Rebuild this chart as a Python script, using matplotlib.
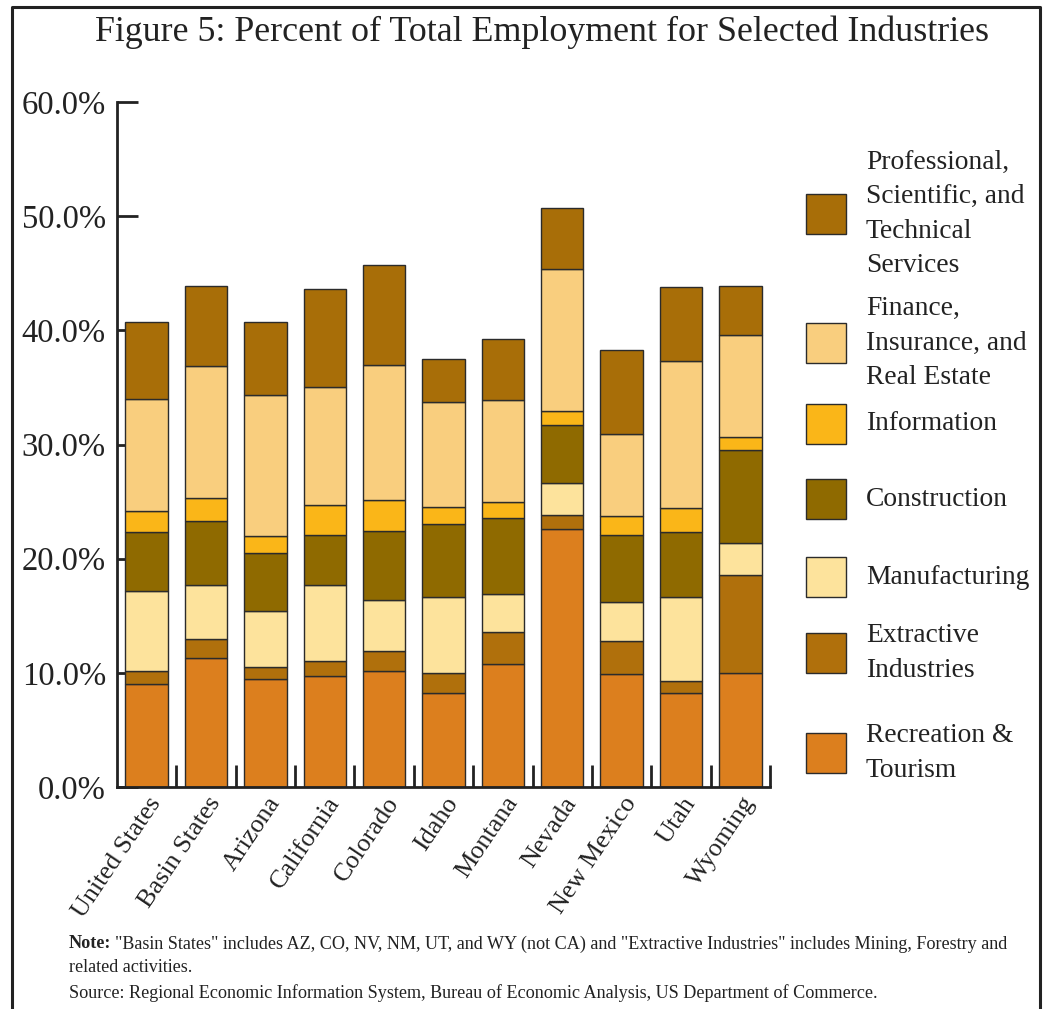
import numpy as np
import matplotlib
matplotlib.use('Agg')
import matplotlib.pyplot as plt
from matplotlib.lines import Line2D
from matplotlib.patches import Rectangle

plt.rcParams['font.family'] = ['Liberation Serif', 'DejaVu Serif']

regions = ['United States', 'Basin States', 'Arizona', 'California', 'Colorado',
           'Idaho', 'Montana', 'Nevada', 'New Mexico', 'Utah', 'Wyoming']

# share of total employment (%), stacked bottom to top
recreation    = [9.0, 11.3, 9.5, 9.7, 10.2, 8.2, 10.8, 22.6, 9.9, 8.2, 10.0]
extractive    = [1.2, 1.7, 1.0, 1.3, 1.7, 1.8, 2.8, 1.2, 2.9, 1.1, 8.6]
manufacturing = [7.0, 4.7, 4.9, 6.7, 4.5, 6.6, 3.3, 2.8, 3.4, 7.3, 2.8]
construction  = [5.1, 5.6, 5.1, 4.4, 6.0, 6.4, 6.7, 5.1, 5.9, 5.7, 8.1]
information   = [1.9, 2.0, 1.5, 2.6, 2.7, 1.5, 1.4, 1.2, 1.6, 2.1, 1.2]
finance       = [9.8, 11.6, 12.3, 10.3, 11.9, 9.2, 8.9, 12.5, 7.2, 12.9, 8.9]
professional  = [6.7, 7.0, 6.4, 8.6, 8.7, 3.8, 5.3, 5.35, 7.4, 6.5, 4.3]

series = [recreation, extractive, manufacturing, construction,
          information, finance, professional]
names = ['Recreation &\nTourism', 'Extractive\nIndustries', 'Manufacturing',
         'Construction', 'Information', 'Finance,\nInsurance, and\nReal Estate',
         'Professional,\nScientific, and\nTechnical\nServices']
colors = ['#DC7F1E', '#B0700C', '#FDE39C', '#8F6A00',
          '#FAB618', '#F9CE7E', '#A86E08']

W, H = 1047, 1009
fig = plt.figure(figsize=(W / 100, H / 100), dpi=100)
ax = fig.add_axes([117 / W, 1 - 787 / H, (770 - 117) / W, (787 - 102) / H])

x = np.arange(len(regions))
bottom = np.zeros(len(regions))
for vals, col in zip(series, colors):
    ax.bar(x, vals, width=0.715, bottom=bottom, color=col,
           edgecolor='#2b2b2b', linewidth=1.0, zorder=2)
    bottom += np.array(vals)

ax.set_xlim(-0.5, 10.5)
ax.set_ylim(0, 60)
ax.set_yticks(np.arange(0, 61, 10))
ax.set_yticklabels(['%.1f%%' % v for v in np.arange(0, 61, 10)])
ax.set_xticks(x + 0.5)
ax.set_xticklabels([])
for s in ['top', 'right']:
    ax.spines[s].set_visible(False)
for s in ['left', 'bottom']:
    ax.spines[s].set_linewidth(2.0)
    ax.spines[s].set_color('#222222')
ax.tick_params(axis='y', direction='in', length=15, width=2.0, color='#222222',
               labelsize=23.5, pad=8, labelcolor='#222222')
ax.tick_params(axis='x', direction='in', length=16, width=2.0, color='#222222')

# rotated region names under each bar
for xi, name in zip(x, regions):
    ax.annotate(name, xy=(xi, 0), xycoords=('data', 'axes fraction'),
                xytext=(10, -12), textcoords='offset pixels',
                rotation=56, rotation_mode='anchor', ha='right', va='center',
                fontsize=18.8, color='#222222')

fig.text(542 / W, 1 - 32 / H,
         'Figure 5: Percent of Total Employment for Selected Industries',
         ha='center', va='center', fontsize=25.8, color='#222222')

# legend, top entry first
leg_y = [214, 343, 424, 499, 577, 653, 753]
for yc, name, col in zip(leg_y, names[::-1], colors[::-1]):
    fig.add_artist(Rectangle((806 / W, 1 - (yc + 20) / H), 40 / W, 40 / H,
                             transform=fig.transFigure, facecolor=col,
                             edgecolor='#2b2b2b', linewidth=1.0))
    fig.text(866 / W, 1 - yc / H, name, ha='left', va='center',
             fontsize=19.8, linespacing=1.5, color='#222222')

# outer frame, open at the bottom
lw = 2.2
fx0, fx1, fy1 = 12 / W, 1040 / W, 1 - 7 / H
fig.add_artist(Line2D([fx0, fx0, fx1, fx1], [0, fy1, fy1, 0],
                      transform=fig.transFigure, color='#222222', linewidth=lw))

fs_note = 13.1
note = fig.text(69 / W, 1 - 944 / H, 'Note:', ha='left', va='center',
                fontsize=fs_note, fontweight='bold', color='#222222')
fig.canvas.draw()
bb = note.get_window_extent()
fig.text((bb.x1 + 4) / W, 1 - 944 / H,
         '"Basin States" includes AZ, CO, NV, NM, UT, and WY (not CA) and '
         '"Extractive Industries" includes Mining, Forestry and',
         ha='left', va='center', fontsize=fs_note, color='#222222')
fig.text(69 / W, 1 - 968 / H, 'related activities.', ha='left', va='center',
         fontsize=fs_note, color='#222222')
fig.text(69 / W, 1 - 993 / H,
         'Source: Regional Economic Information System, Bureau of Economic '
         'Analysis, US Department of Commerce.',
         ha='left', va='center', fontsize=fs_note, color='#222222')

fig.savefig('out.png', dpi=100)
